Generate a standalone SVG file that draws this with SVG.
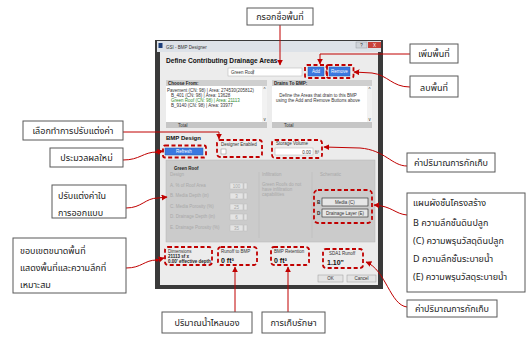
<svg xmlns="http://www.w3.org/2000/svg" width="527" height="338" viewBox="0 0 527 338">
<defs>
<style>
.cb{fill:#fff;stroke:#595959;stroke-width:1}
.ct{font-family:"Noto Sans Thai","Noto Sans","DejaVu Sans",sans-serif;font-size:9px;fill:#222}
.mid{text-anchor:middle}
.rd{fill:none;stroke:#c00000;stroke-width:1.8;stroke-dasharray:4 2.5}
.ln{fill:none;stroke:#c00000;stroke-width:1}
.ui{font-family:"Liberation Sans",Arial,sans-serif;font-size:4.5px;fill:#333}
.uib{font-family:"Liberation Sans",Arial,sans-serif;font-size:4.5px;fill:#222;font-weight:bold}
.dis{font-family:"Liberation Sans",Arial,sans-serif;font-size:4.5px;fill:#a8a8a8}
.btn{fill:#3a78e0;stroke:#2a5db0;stroke-width:0.5}
.bt{font-family:"Liberation Sans",Arial,sans-serif;font-size:4.5px;fill:#fff;text-anchor:middle}
.hdr{fill:#cfcfcf}
.wh{fill:#fff;stroke:#b0b0b0;stroke-width:0.5}
.spin{fill:#e4e4e4;stroke:#bdbdbd;stroke-width:0.5}
.big{font-family:"Liberation Sans",Arial,sans-serif;font-size:7px;font-weight:bold;fill:#111}
</style>
<marker id="ah" viewBox="0 0 10 10" refX="9" refY="5" markerWidth="6" markerHeight="6" markerUnits="userSpaceOnUse" orient="auto">
<path d="M0,0 L10,5 L0,10 z" fill="#c00000"/>
</marker>
</defs>
<rect width="527" height="338" fill="#fff"/>

<g id="window">
<rect x="155" y="40" width="228" height="249" fill="#3a3a3a"/>
<rect x="157" y="41" width="224" height="11" fill="#dde2e8"/>
<rect x="158.5" y="43" width="4" height="5" fill="#1e3f7a"/>
<text x="166" y="48.5" class="ui">GSI - BMP Designer</text>
<rect x="356" y="42" width="11" height="6" fill="#cfd4da" stroke="#8a8f96" stroke-width="0.4"/>
<text x="361.5" y="47" class="ui mid">?</text>
<rect x="368" y="42" width="13" height="6" fill="#c8413a"/>
<text x="374.5" y="47" class="bt">X</text>
<rect x="160" y="52" width="218" height="233" fill="#ececec"/>
<text x="166" y="63" font-family="Liberation Sans,Arial,sans-serif" font-size="6.6" font-weight="bold" fill="#111">Define Contributing Drainage Areas</text>
<rect x="228" y="68" width="74" height="8" class="wh"/>
<text x="231" y="74" class="ui">Green Roof</text>
<line x1="253" y1="69.5" x2="253" y2="74.5" stroke="#333" stroke-width="0.4"/>
<rect x="308" y="67" width="16" height="9" class="btn"/>
<text x="316" y="73" class="bt">Add</text>
<rect x="329" y="67" width="21" height="9" class="btn"/>
<text x="339.5" y="73" class="bt">Remove</text>

<rect x="166" y="80" width="101" height="6" class="hdr"/>
<text x="168" y="85" class="uib">Choose From:</text>
<rect x="166" y="86" width="101" height="36" fill="#fff"/>
<rect x="262" y="86" width="5" height="36" fill="#f2f2f2"/>
<text x="264.5" y="91" class="ui mid">^</text>
<text x="264.5" y="121" class="ui mid">v</text>
<text x="167" y="92" class="ui">Pavement (CN: 98) | Area: 274530(205812)</text>
<text x="171" y="97" class="ui">B_401 (CN: 98) | Area: 13628</text>
<text x="171" y="102" class="ui" style="fill:#2e8b2e">Green Roof (CN: 98) | Area: 21113</text>
<text x="171" y="107" class="ui">B_9140 (CN: 98) | Area: 33977</text>
<rect x="166" y="122" width="101" height="6" fill="#c6c6c6"/>
<text x="178" y="127" class="ui">Total</text>

<rect x="272" y="80" width="100" height="6" class="hdr"/>
<text x="274" y="85" class="uib">Drains To BMP:</text>
<rect x="272" y="86" width="100" height="36" fill="#fff"/>
<rect x="367" y="86" width="5" height="36" fill="#f2f2f2"/>
<text x="369.5" y="91" class="ui mid">^</text>
<text x="369.5" y="121" class="ui mid">v</text>
<text x="318" y="97" class="ui mid">Define the Areas that drain to this BMP</text>
<text x="318" y="102" class="ui mid">using the Add and Remove Buttons above</text>
<rect x="272" y="122" width="100" height="6" fill="#c6c6c6"/>
<text x="284" y="127" class="ui">Total</text>

<text x="166" y="140" font-family="Liberation Sans,Arial,sans-serif" font-size="6" font-weight="bold" fill="#111">BMP Design</text>
<rect x="165" y="148" width="38" height="7" class="btn"/>
<text x="184" y="153" class="bt">Refresh</text>
<text x="221" y="146" class="ui">Designer Enabled</text>
<rect x="221" y="149" width="5" height="5" fill="#fff" stroke="#888" stroke-width="0.5"/>
<text x="276" y="145" class="ui">Storage Volume</text>
<rect x="275" y="148" width="38" height="7" class="wh"/>
<text x="311" y="153.5" class="ui" text-anchor="end">0.00</text>
<text x="315" y="153.5" class="ui">ft³</text>

<rect x="166" y="160" width="209" height="82" fill="#cbcbcb" stroke="#b5b5b5" stroke-width="0.5"/>
<text x="174" y="170" class="uib">Green Roof</text>
<text x="170" y="176" class="dis">Design</text>
<text x="170" y="187" class="dis">A. % of Roof Area</text>
<text x="170" y="197" class="dis">B. Media Depth (in)</text>
<text x="170" y="208" class="dis">C. Media Porosity (%)</text>
<text x="170" y="218" class="dis">D. Drainage Depth (in)</text>
<text x="170" y="229" class="dis">E. Drainage Porosity (%)</text>
<rect x="230" y="183" width="13" height="6" class="spin"/><rect x="244" y="183" width="3" height="6" class="spin"/>
<rect x="230" y="193" width="13" height="6" class="spin"/><rect x="244" y="193" width="3" height="6" class="spin"/>
<rect x="230" y="204" width="13" height="6" class="spin"/><rect x="244" y="204" width="3" height="6" class="spin"/>
<rect x="230" y="214" width="13" height="6" class="spin"/><rect x="244" y="214" width="3" height="6" class="spin"/>
<rect x="230" y="225" width="13" height="6" class="spin"/><rect x="244" y="225" width="3" height="6" class="spin"/>
<text x="236.5" y="188" class="dis mid">100</text>
<text x="236.5" y="198" class="dis mid">3</text>
<text x="236.5" y="209" class="dis mid">25</text>
<text x="236.5" y="219" class="dis mid">6</text>
<text x="236.5" y="230" class="dis mid">35</text>
<line x1="259" y1="172" x2="259" y2="238" stroke="#bcbcbc" stroke-width="0.6"/>
<text x="262" y="176" class="dis">Infiltration</text>
<text x="262" y="186" class="dis">Green Roofs do not</text>
<text x="262" y="191" class="dis">have infiltration</text>
<text x="262" y="196" class="dis">capabilities</text>
<line x1="312" y1="172" x2="312" y2="238" stroke="#bcbcbc" stroke-width="0.6"/>
<text x="320" y="176" class="dis">Schematic</text>
<text x="317" y="204" class="uib">B</text>
<rect x="322" y="198" width="46" height="8" fill="#e6e6e6" stroke="#222" stroke-width="0.6"/>
<text x="345" y="203.5" class="ui mid">Media (C)</text>
<text x="317" y="215" class="uib">D</text>
<rect x="322" y="209" width="46" height="8" fill="#e6e6e6" stroke="#222" stroke-width="0.6"/>
<text x="345" y="214.5" class="ui mid">Drainage Layer (E)</text>

<text x="168" y="253" class="ui">Dimensions</text>
<text x="168" y="258" class="uib">21113 sf x</text>
<text x="168" y="263" class="uib">0.00' effective depth</text>
<text x="221" y="253" class="ui">Runoff to BMP</text>
<text x="221" y="262.5" class="big">0 ft³</text>
<text x="274" y="253" class="ui">BMP Retention</text>
<text x="274" y="262.5" class="big">0 ft³</text>
<text x="329" y="255" class="ui">SDA1 Runoff</text>
<text x="327" y="264.5" class="big">1.10"</text>
<rect x="318" y="275" width="25" height="7" fill="#e4e4e4" stroke="#999" stroke-width="0.5"/>
<text x="330.5" y="280" class="ui mid">OK</text>
<rect x="347" y="275" width="29" height="7" fill="#e4e4e4" stroke="#999" stroke-width="0.5"/>
<text x="361.5" y="280" class="ui mid">Cancel</text>
</g>

<g id="highlights">
<rect x="305" y="65" width="22" height="13" rx="2" class="rd"/>
<rect x="326.5" y="65" width="27" height="13" rx="2" class="rd"/>
<rect x="163" y="145.5" width="43" height="12" rx="2" class="rd"/>
<rect x="217" y="140" width="45" height="17" rx="3" class="rd"/>
<rect x="272" y="140" width="50" height="18" rx="3" class="rd"/>
<rect x="314" y="190" width="58" height="33" rx="4" class="rd"/>
<rect x="165" y="247" width="47" height="18" rx="3" class="rd"/>
<rect x="218" y="247" width="39" height="18" rx="3" class="rd"/>
<rect x="271" y="247" width="38" height="18" rx="3" class="rd"/>
<rect x="323" y="249" width="40" height="19" rx="3" class="rd"/>
</g>

<g id="connectors">
<path d="M280 25 V65" class="ln" marker-end="url(#ah)"/>
<path d="M410 54 H320 V64" class="ln" marker-end="url(#ah)"/>
<path d="M410 87 C392 87 388 75 372 73 L354 72" class="ln" marker-end="url(#ah)"/>
<path d="M123 132 H219 V139" class="ln" marker-end="url(#ah)"/>
<path d="M123 160 C140 160 143 152 157 152 L163 151" class="ln" marker-end="url(#ah)"/>
<path d="M126 208 C142 208 145 198 158 198 L167 197" class="ln" marker-end="url(#ah)"/>
<path d="M126 268 C142 268 144 260 157 260 L164 258" class="ln" marker-end="url(#ah)"/>
<path d="M407 166 C392 166 385 150 360 148 L324 147" class="ln" marker-end="url(#ah)"/>
<path d="M407 215 C395 214 392 206 374 205" class="ln" marker-end="url(#ah)"/>
<path d="M407 307 C390 305 386 270 366 262" class="ln" marker-end="url(#ah)"/>
<path d="M235 312 V267" class="ln" marker-end="url(#ah)"/>
<path d="M288 312 V267" class="ln" marker-end="url(#ah)"/>
<circle cx="157" cy="152" r="1.6" fill="#c00000"/>
<circle cx="157" cy="260" r="1.6" fill="#c00000"/>
</g>

<g id="c-name"><rect x="247" y="8" width="66" height="17" class="cb"/><text x="280" y="20" class="ct mid">กรอกชื่อพื้นที่</text></g>
<g id="c-add"><rect x="410" y="44" width="48" height="19" class="cb"/><text x="434" y="57" class="ct mid">เพิ่มพื้นที่</text></g>
<g id="c-remove"><rect x="410" y="76" width="48" height="21" class="cb"/><text x="434" y="90.5" class="ct mid">ลบพื้นที่</text></g>
<g id="c-select"><rect x="23" y="121" width="100" height="19" class="cb"/><text x="73" y="134" class="ct mid">เลือกทำการปรับแต่งค่า</text></g>
<g id="c-refresh"><rect x="50" y="148" width="73" height="19" class="cb"/><text x="86.5" y="161" class="ct mid">ประมวลผลใหม่</text></g>
<g id="c-design"><rect x="52" y="185" width="74" height="33" class="cb"/><text x="58" y="199" class="ct">ปรับแต่งค่าใน</text><text x="58" y="216" class="ct">การออกแบบ</text></g>
<g id="c-dim"><rect x="13" y="238" width="113" height="55" class="cb"/><text x="20" y="254" class="ct">ขอบเขตขนาดพื้นที่</text><text x="20" y="271" class="ct">แสดงพื้นที่และความลึกที่</text><text x="20" y="288" class="ct">เหมาะสม</text></g>
<g id="c-storage"><rect x="407" y="153" width="88" height="19" class="cb"/><text x="451" y="166" class="ct mid">ค่าปริมาณการกักเก็บ</text></g>
<g id="c-schematic"><rect x="407" y="193" width="118" height="99" class="cb"/>
<text x="413" y="206" class="ct">แผนผังชั้นโครงสร้าง</text>
<text x="413" y="226" class="ct">B ความลึกชั้นดินปลูก</text>
<text x="413" y="244" class="ct">(C) ความพรุนวัสดุดินปลูก</text>
<text x="413" y="262" class="ct">D ความลึกชั้นระบายน้ำ</text>
<text x="413" y="280" class="ct">(E) ความพรุนวัสดุระบายน้ำ</text></g>
<g id="c-sda"><rect x="407" y="300" width="90" height="17" class="cb"/><text x="452" y="312" class="ct mid">ค่าปริมาณการกักเก็บ</text></g>
<g id="c-runoff"><rect x="162" y="312" width="90" height="21" class="cb"/><text x="207" y="326" class="ct mid">ปริมาณน้ำไหลนอง</text></g>
<g id="c-retention"><rect x="262" y="312" width="63" height="21" class="cb"/><text x="293.5" y="326" class="ct mid">การเก็บรักษา</text></g>
</svg>
